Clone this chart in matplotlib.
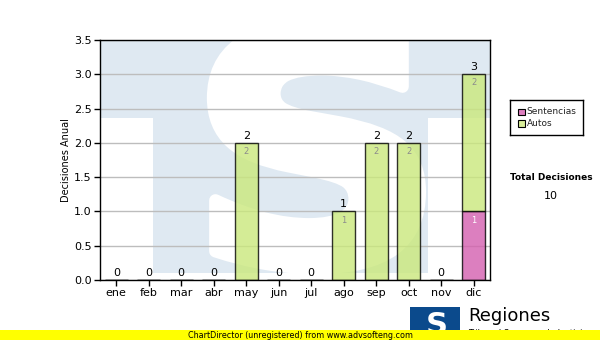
import matplotlib.pyplot as plt
import numpy as np
from matplotlib.textpath import TextPath
from matplotlib.font_manager import FontProperties
from matplotlib.patches import PathPatch, Rectangle
from matplotlib.transforms import Affine2D

meses = ['ene', 'feb', 'mar', 'abr', 'may', 'jun', 'jul', 'ago', 'sep', 'oct', 'nov', 'dic']
sentencias = [0, 0, 0, 0, 0, 0, 0, 0, 0, 0, 0, 1]
autos = [0, 0, 0, 0, 2, 0, 0, 1, 2, 2, 0, 2]
total_label = 'Total Decisiones'
yticks = [0.0, 0.5, 1.0, 1.5, 2.0, 2.5, 3.0, 3.5]

sentencias = np.array(sentencias)
autos = np.array(autos)
totales = sentencias + autos
x = np.arange(len(meses))

fig = plt.figure(figsize=(6, 3.4), dpi=100)
ax = fig.add_axes([100/600, 60/340, 390/600, 240/340])

# watermark (light blue "TS" logo behind the plot)
wm = '#dfe9f2'
ax.add_patch(Rectangle((0, 0.675), 1, 0.325, transform=ax.transAxes, color=wm, lw=0, zorder=-3))
ax.add_patch(Rectangle((0.136, 0.029), 0.133, 0.65, transform=ax.transAxes, color=wm, lw=0, zorder=-3))
ax.add_patch(Rectangle((0.269, 0.029), 0.572, 0.65, transform=ax.transAxes, color=wm, lw=0, zorder=-3))
tp = TextPath((0, 0), 'S', prop=FontProperties(family='DejaVu Sans', weight='bold'))
ext = tp.get_extents()
sx = (0.82 - 0.29) / ext.width
sy = (1.06 - 0.05) / ext.height
tr = Affine2D().translate(-ext.x0, -ext.y0).scale(sx, sy).translate(0.29, 0.05) + ax.transAxes
ax.add_patch(PathPatch(tp, transform=tr, facecolor='white', edgecolor='white', lw=9,
                       joinstyle='round', zorder=-2, clip_on=True))

ax.set_ylim(0, 3.5)
ax.set_xlim(-0.5, 11.5)
ax.set_yticks(yticks)
ax.set_yticklabels(['%.1f' % v for v in yticks], fontsize=8)
ax.set_xticks(x)
ax.set_xticklabels(meses, fontsize=8)
ax.tick_params(direction='out', length=4, width=1, color='black', pad=2)
for s in ax.spines.values():
    s.set_linewidth(1)
    s.set_zorder(5)
ax.set_axisbelow(True)
ax.yaxis.grid(True, color='#bdbdbd', lw=1)
ax.set_ylabel('Decisiones Anual', fontsize=7, labelpad=2)

w = 0.71
ax.bar(x, sentencias, w, color='#d45faf', alpha=0.8, edgecolor='black', lw=1, zorder=2)
ax.bar(x, autos, w, bottom=sentencias, color='#cae87c', alpha=0.8, edgecolor='black', lw=1, zorder=2)
for i in x:
    ax.text(i, totales[i] + 0.03, str(totales[i]), ha='center', va='bottom', fontsize=8, zorder=4)
    if sentencias[i] > 0:
        ax.text(i, sentencias[i] - 0.06, str(sentencias[i]), ha='center', va='top',
                fontsize=6, color='white', zorder=4)
    if autos[i] > 0:
        ax.text(i, totales[i] - 0.06, str(autos[i]), ha='center', va='top',
                fontsize=6, color='#8c8c8c', zorder=4)

# legend box
lg = fig.add_axes([510/600, (340-135)/340, 73/600, 35/340])
lg.set_xlim(0, 73)
lg.set_ylim(35, 0)
lg.set_xticks([])
lg.set_yticks([])
for s in lg.spines.values():
    s.set_linewidth(1)
lg.add_patch(Rectangle((8, 8.5), 6.5, 6.5, facecolor='#de7fc0', edgecolor='black', lw=0.8))
lg.add_patch(Rectangle((8, 20), 6.5, 6.5, facecolor='#d8ee9a', edgecolor='black', lw=0.8))
lg.text(16.5, 11.8, 'Sentencias', fontsize=6.5, va='center', color='#222222')
lg.text(16.5, 23.3, 'Autos', fontsize=6.5, va='center', color='#222222')

fig.text(551/600, 1 - 177/340, total_label, fontsize=6.5, fontweight='bold', ha='center', va='center')
fig.text(551/600, 1 - 196/340, str(totales.sum()), fontsize=8, ha='center', va='center')

# bottom logo and banner
fig.patches.append(Rectangle((410/600, 0), 50/600, 33/340, transform=fig.transFigure,
                             color='#0b4a8c', lw=0, zorder=1))
fig.text(437/600, 15/340, 'S', fontsize=22, fontweight='bold', family='DejaVu Sans',
         color='white', ha='center', va='center', zorder=2)
fig.text(468/600, 1 - 316/340, 'Regiones', fontsize=13, ha='left', va='center', zorder=2)
fig.text(468/600, 1 - 333/340, 'Tribunal Supremo de Justicia', fontsize=6, ha='left', va='center', zorder=2)
fig.patches.append(Rectangle((0, 0), 1, 10/340, transform=fig.transFigure,
                             color='#ffff00', lw=0, zorder=3))
fig.text(300/600, 5/340, 'ChartDirector (unregistered) from www.advsofteng.com', fontsize=5.8,
         ha='center', va='center', zorder=4)

fig.savefig('out.png', dpi=100)
